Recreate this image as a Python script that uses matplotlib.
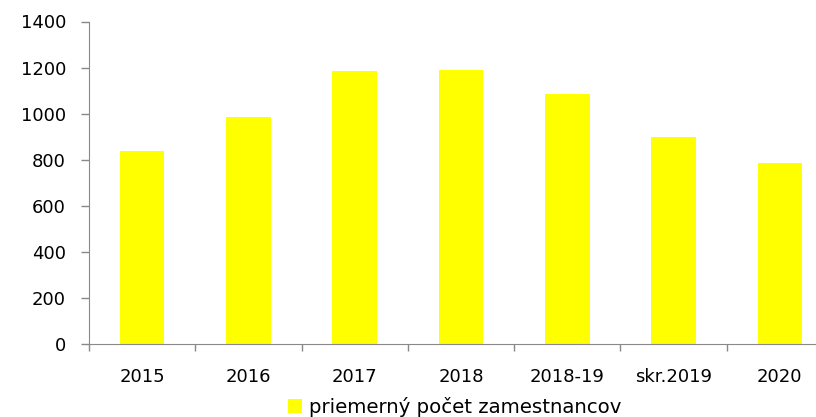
import numpy as np
import matplotlib.pyplot as plt

plt.rcParams['font.family'] = ['DejaVu Sans']

# data
roky = ['2015', '2016', '2017', '2018', '2018-19', 'skr.2019', '2020']
zamestnanci = [837, 987, 1184, 1189, 1087, 900, 787]

fig = plt.figure(figsize=(8.16, 4.17), dpi=100)
ax = fig.add_axes([89 / 816, 1 - 344 / 417, 744 / 816, 322.5 / 417])

x = np.arange(len(roky))
ax.bar(x, zamestnanci, width=0.42, color='#FFFF00', label='priemerný počet zamestnancov')

ax.set_xlim(-0.5, len(roky) - 0.5)
ax.set_ylim(0, 1400)
ax.set_yticks(range(0, 1401, 200))

# ticks between categories, labels in the middle
ax.set_xticks(np.arange(-0.5, len(roky), 1))
ax.set_xticklabels([])
ax.set_xticks(x, minor=True)
ax.set_xticklabels(roky, minor=True)
ax.tick_params(axis='x', which='minor', length=0, pad=17, labelsize=13)
ax.tick_params(axis='x', which='major', length=5, width=1, color='#898989')
ax.tick_params(axis='y', length=5.5, width=1, color='#898989', pad=11, labelsize=13)

for s in ['top', 'right']:
    ax.spines[s].set_visible(False)
ax.spines['left'].set_color('#898989')
ax.spines['bottom'].set_color('#898989')

fig.legend(loc='center', bbox_to_anchor=(455 / 816, 1 - 407 / 417), frameon=False,
           fontsize=14.2, handlelength=0.7, handleheight=0.7, handletextpad=0.35,
           borderpad=0)

fig.savefig('out.png', dpi=100)
